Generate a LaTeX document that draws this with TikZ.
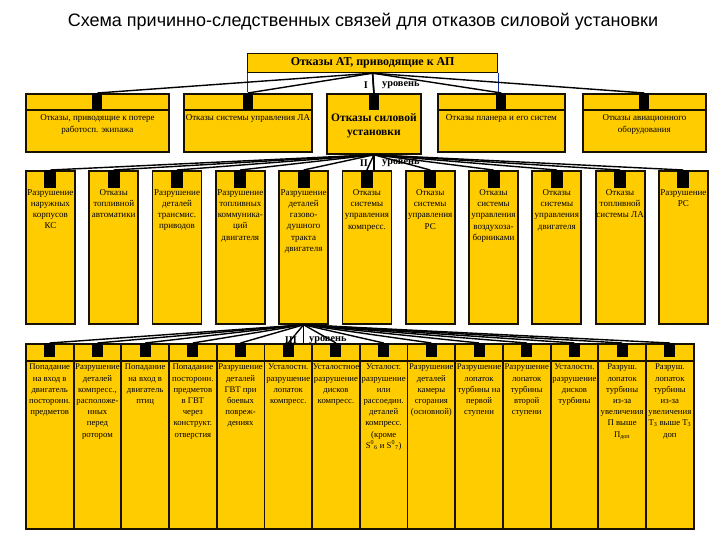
\documentclass[tikz,border=0pt]{standalone}
\usepackage{fontspec}
\setmainfont{Liberation Serif}
\newfontfamily\titlefont{Liberation Sans}
\definecolor{by}{HTML}{FFCC00}
\definecolor{bb}{HTML}{1A1200}
\definecolor{bl}{HTML}{1030A0}
\begin{document}
\begin{tikzpicture}[x=1pt,y=-1pt,
  box/.style={draw=bb, fill=by, line width=1.8pt, inner sep=0pt, anchor=north west},
  tabbox/.style={fill=black, inner sep=0pt, anchor=north},
  sepline/.style={draw=bb, line width=1.5pt},
  fan/.style={draw=black, line width=1.4pt},
  vline/.style={draw=black, line width=1.6pt},
  lvl/.style={font=\bfseries\fontsize{10.3}{11}\selectfont, inner sep=0pt},
  txta/.style={font=\fontsize{9}{12}\selectfont, align=center, inner sep=0pt, anchor=north},
  txtb/.style={font=\fontsize{9}{11.3}\selectfont, align=center, inner sep=0pt, anchor=north},
  txtc/.style={font=\fontsize{8.7}{11.2}\selectfont, align=center, inner sep=0pt, anchor=north}
]
\useasboundingbox (0,0) rectangle (720,540);
\fill[white] (0,0) rectangle (720,540);

% title
\node[font=\titlefont\fontsize{18}{21}\selectfont] (title) at (363,22) {Схема причинно-следственных связей для отказов силовой установки};

% top box
\node[box, line width=1.2pt, minimum width=250pt, minimum height=19pt] (top) at (247,53) {};
\node[font=\bfseries\fontsize{12}{14}\selectfont, inner sep=0pt] (toptxt) at (top.center) {Отказы АТ, приводящие к АП};
\draw[bl, line width=0.8pt] (top.south west) -- ++(0,19);
\draw[bl, line width=0.8pt] (top.south east) -- ++(0,19);

% level I boxes
\node[box, minimum width=143pt, minimum height=58pt] (a1) at (25,93) {};
\node[box, minimum width=128pt, minimum height=58pt] (a2) at (183,93) {};
\node[box, minimum width=94pt, minimum height=60pt] (a3) at (326,93) {};
\node[box, minimum width=127pt, minimum height=58pt] (a4) at (437,93) {};
\node[box, minimum width=123pt, minimum height=58pt] (a5) at (582,93) {};
\foreach \n in {1,2,4,5}{
  \draw[sepline] (a\n.west |- 0,110) -- (a\n.east |- 0,110);
}
\foreach \n in {1,...,5}{
  \node[tabbox, minimum width=10pt, minimum height=17pt] (ta\n) at (a\n.north) {};
}
\node[txta] (xa1) at (a1.north |- 0,114) {Отказы, приводящие к потере\\работосп. экипажа};
\node[txta] (xa2) at (a2.north |- 0,114) {Отказы системы управления ЛА};
\node[txta, font=\bfseries\fontsize{11.5}{14.5}\selectfont] (xa3) at (a3.north |- 0,113) {Отказы силовой\\установки};
\node[txta] (xa4) at (a4.north |- 0,114) {Отказы планера и его систем};
\node[txta] (xa5) at (a5.north |- 0,114) {Отказы авиационного\\оборудования};

% level II boxes
\foreach \i/\txt in {
  1/{Разрушение\\наружных\\корпусов\\КС},
  2/{Отказы\\топливной\\автоматики},
  3/{Разрушение\\деталей\\трансмис.\\приводов},
  4/{Разрушение\\топливных\\коммуника-\\ций\\двигателя},
  5/{Разрушение\\деталей\\газово-\\душного\\тракта\\двигателя},
  6/{Отказы\\системы\\управления\\компресс.},
  7/{Отказы\\системы\\управления\\РС},
  8/{Отказы\\системы\\управления\\воздухоза-\\борниками},
  9/{Отказы\\системы\\управления\\двигателя},
  10/{Отказы\\топливной\\системы ЛА},
  11/{Разрушение\\РС}}{
  \pgfmathsetmacro\xx{25+63.3*(\i-1)}
  \node[box, minimum width=49pt, minimum height=153pt] (b\i) at (\xx,170) {};
  \node[tabbox, minimum width=12pt, minimum height=18pt] (tb\i) at (b\i.north) {};
  \node[txtb] (xb\i) at (b\i.north |- 0,189) {\txt};
}

% level III boxes
\foreach \i/\txt in {
  1/{Попадание\\на вход в\\двигатель\\посторонн.\\предметов},
  2/{Разрушение\\деталей\\компресс.,\\расположе-\\нных\\перед\\ротором},
  3/{Попадание\\на вход в\\двигатель\\птиц},
  4/{Попадание\\посторонн.\\предметов\\в ГВТ\\через\\конструкт.\\отверстия},
  5/{Разрушение\\деталей\\ГВТ при\\боевых\\повреж-\\дениях},
  6/{Усталостн.\\разрушение\\лопаток\\компресс.},
  7/{Усталостное\\разрушение\\дисков\\компресс.},
  8/{Усталост.\\разрушение\\или\\рассоедин.\\деталей\\компресс.\\(кроме\\S\textsuperscript{0}\textsubscript{6} и S\textsuperscript{0}\textsubscript{7})},
  9/{Разрушение\\деталей\\камеры\\сгорания\\(основной)},
  10/{Разрушение\\лопаток\\турбины на\\первой\\ступени},
  11/{Разрушение\\лопаток\\турбины\\второй\\ступени},
  12/{Усталостн.\\разрушение\\дисков\\турбины},
  13/{Разруш.\\лопаток\\турбины\\из-за\\увеличения\\П выше\\П\textsubscript{доп}},
  14/{Разруш.\\лопаток\\турбины\\из-за\\увеличения\\Т\textsubscript{3} выше Т\textsubscript{3}\\доп}}{
  \pgfmathsetmacro\xx{25+47.7*(\i-1)}
  \node[box, minimum width=47.7pt, minimum height=185pt] (c\i) at (\xx,343) {};
  \draw[sepline] (c\i.west |- 0,361) -- (c\i.east |- 0,361);
  \node[tabbox, minimum width=11pt, minimum height=14pt] (tc\i) at (c\i.north) {};
  \node[txtc] (xc\i) at (c\i.north |- 0,364) {\txt};
}

% fans: top -> level I
\foreach \n in {1,...,5}{
  \draw[fan] (top.south) -- (ta\n.north);
}
% level I -> level II
\foreach \n in {1,...,11}{
  \draw[fan] (a3.south) -- (tb\n.north);
}
% level II -> level III
\foreach \n in {1,...,14}{
  \draw[fan] (b5.south) -- (tc\n.north);
}
% level stems
\draw[vline] (top.south) -- (ta3.north);
\draw[vline] (a3.south) -- (a3.south |- 0,170);
\draw[vline] (b5.south) -- (b5.south |- 0,343);

% level labels
\node[lvl, anchor=east] (l1a) at (368,85) {I};
\node[lvl, anchor=west] (l1b) at (382,85) {уровень};
\node[lvl, anchor=east] (l2a) at (368,163) {II};
\node[lvl, anchor=west] (l2b) at (382,163) {уровень};
\node[lvl, anchor=east] (l3a) at (297,340) {III};
\node[lvl, anchor=west] (l3b) at (309,340) {уровень};
\end{tikzpicture}
\end{document}
